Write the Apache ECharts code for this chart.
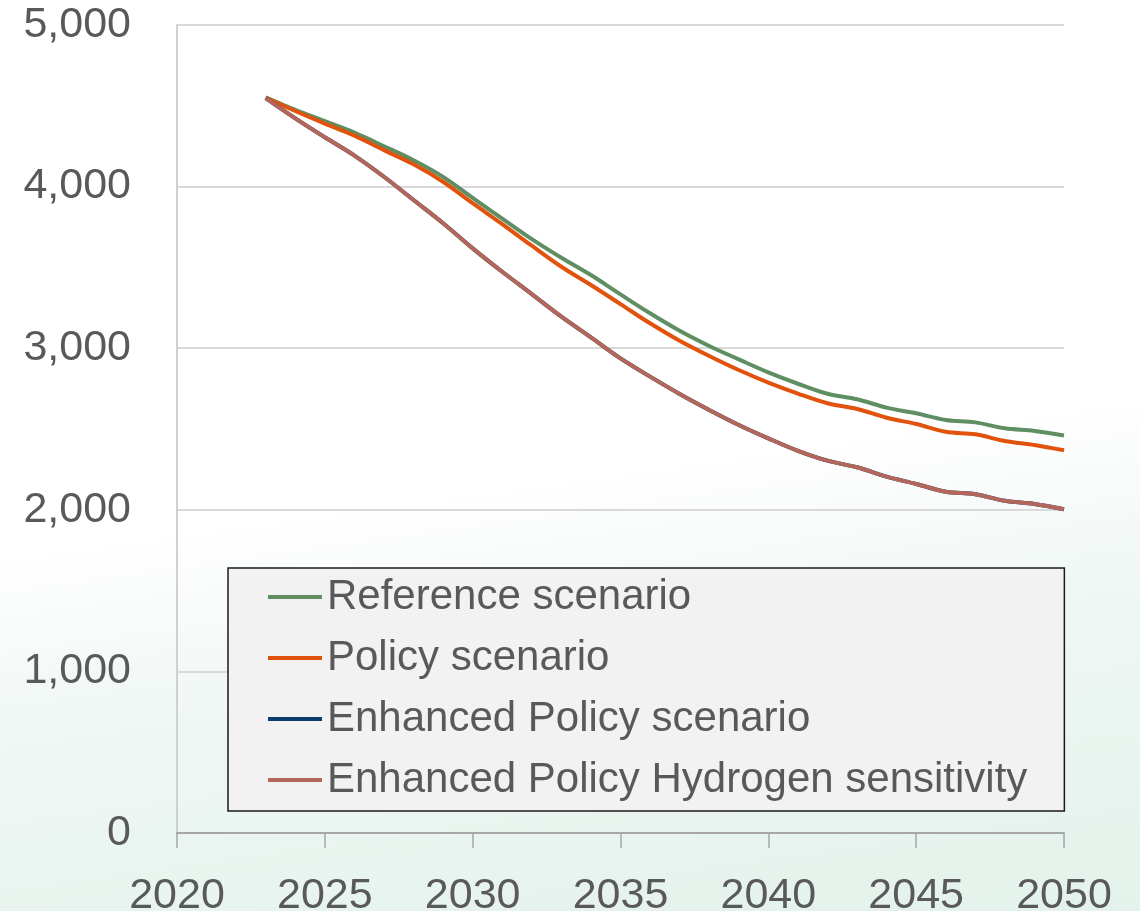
<!DOCTYPE html>
<html>
<head>
<meta charset="utf-8">
<title>Scenarios</title>
<script src="https://cdn.jsdelivr.net/npm/echarts@6/dist/echarts.min.js"></script>
<style>
    html, body {margin: 0; padding: 0;}
    body {
        width: 1140px;
        height: 911px;
        background: linear-gradient(172deg, #ffffff 0%, #ffffff 52%, #f0f7f4 68%, #e3f2eb 100%);
    }
    #chart {width: 1140px; height: 911px;}
</style>
</head>
<body>
<div id="chart"></div>
<script>
var years = [2023, 2024, 2025, 2026, 2027, 2028, 2029, 2030, 2031, 2032, 2033, 2034, 2035, 2036,
             2037, 2038, 2039, 2040, 2041, 2042, 2043, 2044, 2045, 2046, 2047, 2048, 2049, 2050];
var reference = [4553, 4475, 4405, 4334, 4250, 4163, 4060, 3930, 3802, 3675, 3560, 3453, 3333, 3216,
                 3108, 3014, 2931, 2850, 2780, 2718, 2684, 2632, 2597, 2556, 2541, 2504, 2488, 2460];
var policy = [4550, 4468, 4390, 4315, 4226, 4138, 4030, 3897, 3768, 3634, 3504, 3391, 3273, 3154,
              3046, 2952, 2865, 2787, 2719, 2659, 2624, 2570, 2531, 2483, 2467, 2426, 2401, 2368];
var enhanced = [4547, 4422, 4305, 4192, 4061, 3917, 3773, 3618, 3473, 3335, 3195, 3067, 2937, 2824,
                2717, 2618, 2525, 2442, 2365, 2304, 2263, 2205, 2160, 2112, 2096, 2056, 2036, 2003];
var hydrogen = [4547, 4422, 4305, 4192, 4061, 3917, 3773, 3618, 3473, 3335, 3195, 3067, 2937, 2824,
                2717, 2618, 2525, 2442, 2365, 2304, 2263, 2205, 2160, 2112, 2096, 2056, 2036, 2003];
var names = ['Reference scenario', 'Policy scenario', 'Enhanced Policy scenario', 'Enhanced Policy Hydrogen sensitivity'];
var colors = ['#5f8e62', '#e1520c', '#0d3d6c', '#b3665a'];

function pairs(vals) {
    var out = [];
    for (var i = 0; i < years.length; i++) {
        out.push([years[i], vals[i]]);
    }
    return out;
}

var myChart = echarts.init(document.getElementById('chart'));
var allData = [reference, policy, enhanced, hydrogen];
var series = [];
for (var i = 0; i < names.length; i++) {
    series.push({
        name: names[i],
        type: 'line',
        data: pairs(allData[i]),
        smooth: 0.35,
        symbol: 'none',
        lineStyle: {width: 4, color: colors[i]},
        itemStyle: {color: colors[i]}
    });
}

var option = {
    animation: false,
    color: colors,
    textStyle: {fontFamily: 'Liberation Sans', color: '#595959'},
    grid: {
        left: 177,
        right: 76,
        top: 25,
        bottom: 78,
        outerBoundsMode: 'none'
    },
    legend: {
        orient: 'vertical',
        left: 228,
        top: 568,
        data: names,
        icon: 'rect',
        itemWidth: 54,
        itemHeight: 4,
        itemGap: 17,
        padding: [7, 37, 9, 40],
        backgroundColor: '#f2f2f2',
        borderColor: '#1a1a1a',
        borderWidth: 1.5,
        textStyle: {
            fontSize: 42,
            lineHeight: 44,
            color: '#595959',
            fontFamily: 'Liberation Sans'
        }
    },
    xAxis: {
        type: 'value',
        min: 2020,
        max: 2050,
        interval: 5,
        axisLine: {lineStyle: {color: '#a6a6a6', width: 2}},
        axisTick: {show: true, length: 15, lineStyle: {color: '#a6a6a6', width: 1.5}},
        splitLine: {show: false},
        axisLabel: {
            fontSize: 43,
            color: '#595959',
            margin: 42,
            formatter: function(v) { return String(v); }
        }
    },
    yAxis: {
        type: 'value',
        min: 0,
        max: 5000,
        interval: 1000,
        axisLine: {show: true, lineStyle: {color: '#d0d0d0', width: 2}},
        axisTick: {show: false},
        splitLine: {lineStyle: {color: '#d9d9d9', width: 2}},
        axisLabel: {
            fontSize: 43,
            color: '#595959',
            margin: 46
        }
    },
    series: series
};
myChart.setOption(option);
</script>
</body>
</html>
